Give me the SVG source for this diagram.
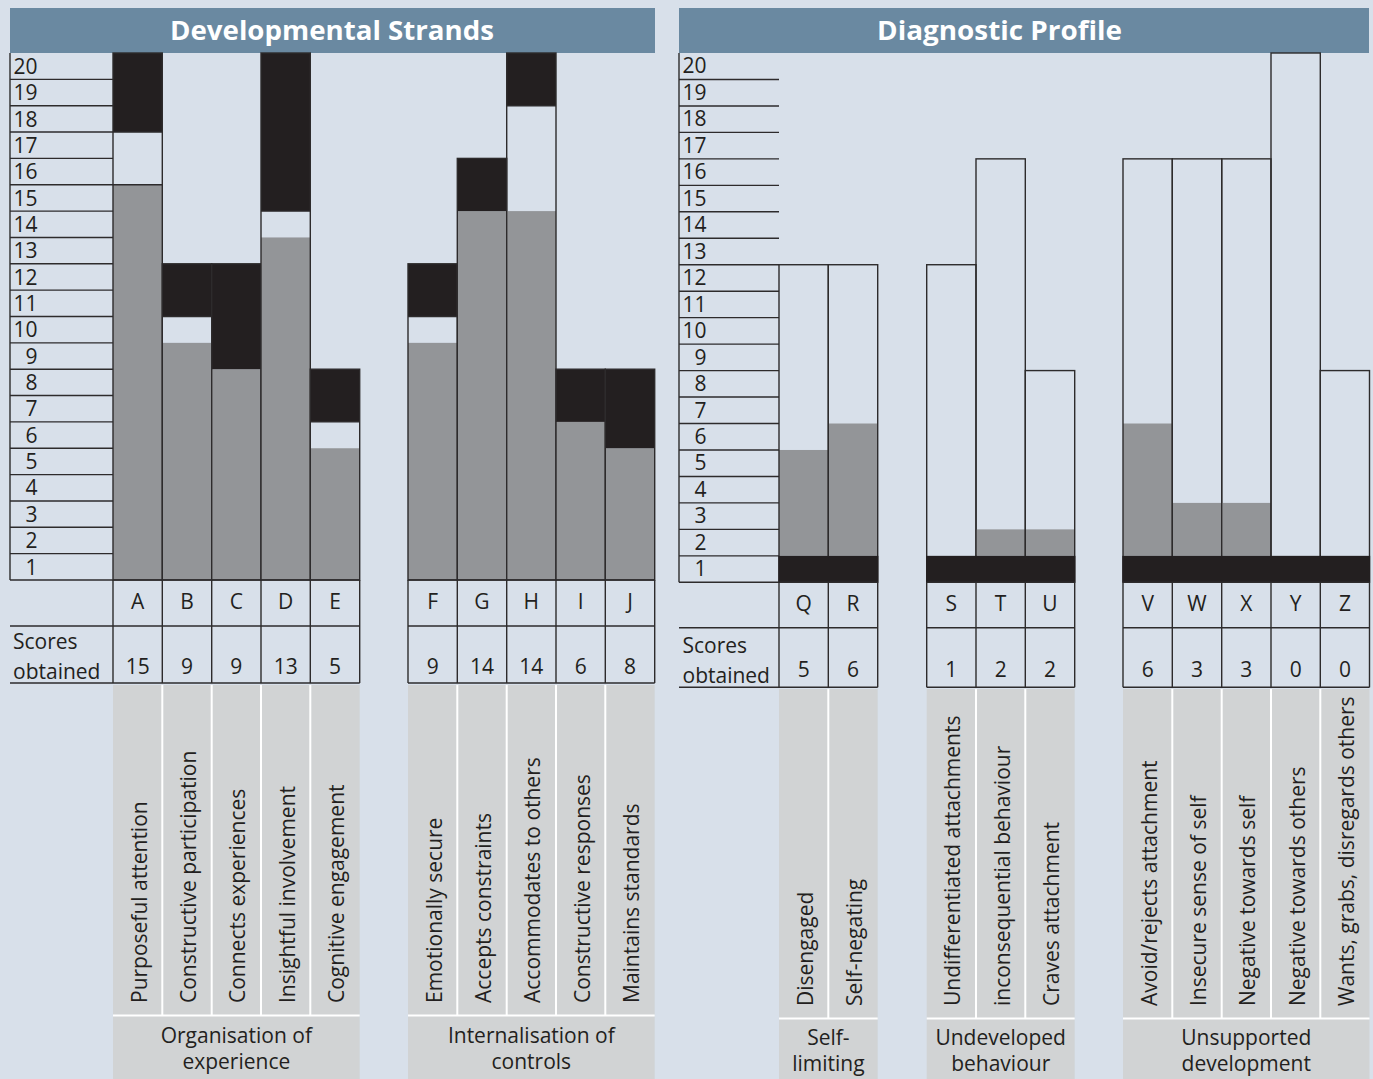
<svg xmlns="http://www.w3.org/2000/svg" width="1373" height="1079" viewBox="0 0 1373 1079">
<style>
.bg{fill:#d8e0ea}
.hdr{fill:#6a89a1}
.ht{font-family:"Open Sans","Noto Sans","Liberation Sans",sans-serif;font-weight:700;font-size:27px;fill:#fff;text-anchor:middle}
.t{font-family:"Open Sans","Noto Sans","Liberation Sans",sans-serif;font-size:21px;fill:#231f20}
.c{text-anchor:middle}
.e{text-anchor:end}
.ln{stroke:#2d2b2c;stroke-width:1.4;fill:none}
.ol{stroke:#2d2b2c;stroke-width:1.4;fill:none}
.blk{fill:#231f20}
.gry{fill:#939598}
.lab{fill:#d1d3d4}
.wl{stroke:#fff;stroke-width:2}
</style>
<rect class="bg" x="0" y="0" width="1373" height="1079"/>

<g id="headers">
<rect class="hdr" x="10" y="8" width="645" height="45"/>
<text class="ht" x="332" y="40" textLength="324" lengthAdjust="spacingAndGlyphs">Developmental Strands</text>
<rect class="hdr" x="679" y="8" width="690" height="45"/>
<text class="ht" x="999.5" y="40" textLength="245" lengthAdjust="spacingAndGlyphs">Diagnostic Profile</text>
</g>

<g id="label-areas">
<rect class="lab" x="113" y="685" width="246.7" height="394"/>
<rect class="lab" x="408" y="685" width="246.7" height="394"/>
<rect class="lab" x="779" y="689" width="98.7" height="390"/>
<rect class="lab" x="926.7" y="689" width="148" height="390"/>
<rect class="lab" x="1123" y="689" width="246.5" height="390"/>
<g class="wl">
<line x1="162.3" y1="685" x2="162.3" y2="1015"/><line x1="211.7" y1="685" x2="211.7" y2="1015"/><line x1="261" y1="685" x2="261" y2="1015"/><line x1="310.3" y1="685" x2="310.3" y2="1015"/>
<line x1="113" y1="1015.5" x2="359.7" y2="1015.5"/>
<line x1="457.3" y1="685" x2="457.3" y2="1015"/><line x1="506.7" y1="685" x2="506.7" y2="1015"/><line x1="556" y1="685" x2="556" y2="1015"/><line x1="605.3" y1="685" x2="605.3" y2="1015"/>
<line x1="408" y1="1015.5" x2="654.7" y2="1015.5"/>
<line x1="828.3" y1="689" x2="828.3" y2="1018"/>
<line x1="779" y1="1018.5" x2="877.7" y2="1018.5"/>
<line x1="976" y1="689" x2="976" y2="1018"/><line x1="1025.3" y1="689" x2="1025.3" y2="1018"/>
<line x1="926.7" y1="1018.5" x2="1074.7" y2="1018.5"/>
<line x1="1172.3" y1="689" x2="1172.3" y2="1018"/><line x1="1221.7" y1="689" x2="1221.7" y2="1018"/><line x1="1271" y1="689" x2="1271" y2="1018"/><line x1="1320.3" y1="689" x2="1320.3" y2="1018"/>
<line x1="1123" y1="1018.5" x2="1369.5" y2="1018.5"/>
</g>
</g>

<g id="left-scale">
<g class="ln">
<line x1="10" y1="53" x2="10" y2="580"/>
<line x1="10" y1="79.35" x2="113" y2="79.35"/><line x1="10" y1="105.7" x2="113" y2="105.7"/><line x1="10" y1="132.05" x2="113" y2="132.05"/><line x1="10" y1="158.4" x2="113" y2="158.4"/><line x1="10" y1="184.75" x2="113" y2="184.75"/><line x1="10" y1="211.1" x2="113" y2="211.1"/><line x1="10" y1="237.45" x2="113" y2="237.45"/><line x1="10" y1="263.8" x2="113" y2="263.8"/><line x1="10" y1="290.15" x2="113" y2="290.15"/><line x1="10" y1="316.5" x2="113" y2="316.5"/><line x1="10" y1="342.85" x2="113" y2="342.85"/><line x1="10" y1="369.2" x2="113" y2="369.2"/><line x1="10" y1="395.55" x2="113" y2="395.55"/><line x1="10" y1="421.9" x2="113" y2="421.9"/><line x1="10" y1="448.25" x2="113" y2="448.25"/><line x1="10" y1="474.6" x2="113" y2="474.6"/><line x1="10" y1="500.95" x2="113" y2="500.95"/><line x1="10" y1="527.3" x2="113" y2="527.3"/><line x1="10" y1="553.65" x2="113" y2="553.65"/>
</g>
<g class="t e">
<text x="37.5" y="73.85">20</text><text x="37.5" y="100.2">19</text><text x="37.5" y="126.55">18</text><text x="37.5" y="152.9">17</text><text x="37.5" y="179.25">16</text><text x="37.5" y="205.6">15</text><text x="37.5" y="231.95">14</text><text x="37.5" y="258.3">13</text><text x="37.5" y="284.65">12</text><text x="37.5" y="311">11</text><text x="37.5" y="337.35">10</text><text x="37.5" y="363.7">9</text><text x="37.5" y="390.05">8</text><text x="37.5" y="416.4">7</text><text x="37.5" y="442.75">6</text><text x="37.5" y="469.1">5</text><text x="37.5" y="495.45">4</text><text x="37.5" y="521.8">3</text><text x="37.5" y="548.15">2</text><text x="37.5" y="574.5">1</text>
</g>
</g>

<g id="left-bars">
<g id="bar-A"><rect class="gry" x="113" y="184.75" width="49.3" height="395.25"/><rect class="blk" x="113" y="53" width="49.3" height="79.05"/><rect class="ol" x="113" y="53" width="49.3" height="527"/></g>
<g id="bar-B"><rect class="gry" x="162.3" y="342.85" width="49.4" height="237.15"/><rect class="blk" x="162.3" y="263.8" width="49.4" height="52.7"/><rect class="ol" x="162.3" y="263.8" width="49.4" height="316.2"/></g>
<g id="bar-C"><rect class="gry" x="211.7" y="369.2" width="49.3" height="210.8"/><rect class="blk" x="211.7" y="263.8" width="49.3" height="105.4"/><rect class="ol" x="211.7" y="263.8" width="49.3" height="316.2"/></g>
<g id="bar-D"><rect class="gry" x="261" y="237.45" width="49.3" height="342.55"/><rect class="blk" x="261" y="53" width="49.3" height="158.1"/><rect class="ol" x="261" y="53" width="49.3" height="527"/></g>
<g id="bar-E"><rect class="gry" x="310.3" y="448.25" width="49.4" height="131.75"/><rect class="blk" x="310.3" y="369.2" width="49.4" height="52.7"/><rect class="ol" x="310.3" y="369.2" width="49.4" height="210.8"/></g>
<g id="bar-F"><rect class="gry" x="408" y="342.85" width="49.3" height="237.15"/><rect class="blk" x="408" y="263.8" width="49.3" height="52.7"/><rect class="ol" x="408" y="263.8" width="49.3" height="316.2"/></g>
<g id="bar-G"><rect class="gry" x="457.3" y="211.1" width="49.4" height="368.9"/><rect class="blk" x="457.3" y="158.4" width="49.4" height="52.7"/><rect class="ol" x="457.3" y="158.4" width="49.4" height="421.6"/></g>
<g id="bar-H"><rect class="gry" x="506.7" y="211.1" width="49.3" height="368.9"/><rect class="blk" x="506.7" y="53" width="49.3" height="52.7"/><rect class="ol" x="506.7" y="53" width="49.3" height="527"/></g>
<g id="bar-I"><rect class="gry" x="556" y="421.9" width="49.3" height="158.1"/><rect class="blk" x="556" y="369.2" width="49.3" height="52.7"/><rect class="ol" x="556" y="369.2" width="49.3" height="210.8"/></g>
<g id="bar-J"><rect class="gry" x="605.3" y="448.25" width="49.4" height="131.75"/><rect class="blk" x="605.3" y="369.2" width="49.4" height="79.05"/><rect class="ol" x="605.3" y="369.2" width="49.4" height="210.8"/></g>
<g class="ln">
<line x1="113" y1="184.75" x2="162.3" y2="184.75"/><line x1="113" y1="132.05" x2="162.3" y2="132.05"/>
<line x1="162.3" y1="316.5" x2="211.7" y2="316.5"/>
<line x1="261" y1="211.1" x2="310.3" y2="211.1"/>
<line x1="310.3" y1="421.9" x2="359.7" y2="421.9"/>
<line x1="408" y1="316.5" x2="457.3" y2="316.5"/>
<line x1="506.7" y1="105.7" x2="556" y2="105.7"/>
</g>
</g>

<g id="left-table">
<g class="ln">
<line x1="10" y1="580" x2="359.7" y2="580"/><line x1="10" y1="626" x2="359.7" y2="626"/><line x1="10" y1="683" x2="359.7" y2="683"/>
<line x1="113" y1="580" x2="113" y2="683"/><line x1="162.3" y1="580" x2="162.3" y2="683"/><line x1="211.7" y1="580" x2="211.7" y2="683"/><line x1="261" y1="580" x2="261" y2="683"/><line x1="310.3" y1="580" x2="310.3" y2="683"/><line x1="359.7" y1="580" x2="359.7" y2="683"/>
<line x1="408" y1="580" x2="654.7" y2="580"/><line x1="408" y1="626" x2="654.7" y2="626"/><line x1="408" y1="683" x2="654.7" y2="683"/>
<line x1="408" y1="580" x2="408" y2="683"/><line x1="457.3" y1="580" x2="457.3" y2="683"/><line x1="506.7" y1="580" x2="506.7" y2="683"/><line x1="556" y1="580" x2="556" y2="683"/><line x1="605.3" y1="580" x2="605.3" y2="683"/><line x1="654.7" y1="580" x2="654.7" y2="683"/>
</g>
<g class="t c">
<text x="137.65" y="608.5">A</text><text x="187" y="608.5">B</text><text x="236.35" y="608.5">C</text><text x="285.65" y="608.5">D</text><text x="335" y="608.5">E</text>
<text x="432.65" y="608.5">F</text><text x="482" y="608.5">G</text><text x="531.35" y="608.5">H</text><text x="580.65" y="608.5">I</text><text x="630" y="608.5">J</text>
<text x="137.65" y="673.5">15</text><text x="187" y="673.5">9</text><text x="236.35" y="673.5">9</text><text x="285.65" y="673.5">13</text><text x="335" y="673.5">5</text>
<text x="432.65" y="673.5">9</text><text x="482" y="673.5">14</text><text x="531.35" y="673.5">14</text><text x="580.65" y="673.5">6</text><text x="630" y="673.5">8</text>
</g>
<text class="t" x="13" y="649">Scores</text>
<text class="t" x="13" y="679">obtained</text>
</g>

<g id="left-labels" class="t">
<text transform="translate(146.65,1003) rotate(-90)">Purposeful attention</text>
<text transform="translate(195.95,1003) rotate(-90)">Constructive participation</text>
<text transform="translate(245.35,1003) rotate(-90)">Connects experiences</text>
<text transform="translate(294.65,1003) rotate(-90)">Insightful involvement</text>
<text transform="translate(343.95,1003) rotate(-90)">Cognitive engagement</text>
<text transform="translate(441.65,1003) rotate(-90)">Emotionally secure</text>
<text transform="translate(490.95,1003) rotate(-90)">Accepts constraints</text>
<text transform="translate(540.35,1003) rotate(-90)">Accommodates to others</text>
<text transform="translate(589.65,1003) rotate(-90)">Constructive responses</text>
<text transform="translate(638.95,1003) rotate(-90)">Maintains standards</text>
<text class="c" x="236.35" y="1043">Organisation of</text>
<text class="c" x="236.35" y="1068.5">experience</text>
<text class="c" x="531.35" y="1043">Internalisation of</text>
<text class="c" x="531.35" y="1068.5">controls</text>
</g>

<g id="right-scale">
<g class="ln">
<line x1="679" y1="53" x2="679" y2="582.3"/>
<line x1="679" y1="79.47" x2="779" y2="79.47"/><line x1="679" y1="105.93" x2="779" y2="105.93"/><line x1="679" y1="132.4" x2="779" y2="132.4"/><line x1="679" y1="158.86" x2="779" y2="158.86"/><line x1="679" y1="185.33" x2="779" y2="185.33"/><line x1="679" y1="211.79" x2="779" y2="211.79"/><line x1="679" y1="238.26" x2="779" y2="238.26"/><line x1="679" y1="264.72" x2="779" y2="264.72"/><line x1="679" y1="291.19" x2="779" y2="291.19"/><line x1="679" y1="317.65" x2="779" y2="317.65"/><line x1="679" y1="344.12" x2="779" y2="344.12"/><line x1="679" y1="370.58" x2="779" y2="370.58"/><line x1="679" y1="397.05" x2="779" y2="397.05"/><line x1="679" y1="423.51" x2="779" y2="423.51"/><line x1="679" y1="449.98" x2="779" y2="449.98"/><line x1="679" y1="476.44" x2="779" y2="476.44"/><line x1="679" y1="502.91" x2="779" y2="502.91"/><line x1="679" y1="529.37" x2="779" y2="529.37"/><line x1="679" y1="555.84" x2="779" y2="555.84"/>
</g>
<g class="t e">
<text x="706.5" y="73.47">20</text><text x="706.5" y="99.93">19</text><text x="706.5" y="126.4">18</text><text x="706.5" y="152.86">17</text><text x="706.5" y="179.33">16</text><text x="706.5" y="205.79">15</text><text x="706.5" y="232.26">14</text><text x="706.5" y="258.72">13</text><text x="706.5" y="285.19">12</text><text x="706.5" y="311.65">11</text><text x="706.5" y="338.12">10</text><text x="706.5" y="364.58">9</text><text x="706.5" y="391.05">8</text><text x="706.5" y="417.51">7</text><text x="706.5" y="443.98">6</text><text x="706.5" y="470.44">5</text><text x="706.5" y="496.91">4</text><text x="706.5" y="523.37">3</text><text x="706.5" y="549.84">2</text><text x="706.5" y="576.3">1</text>
</g>
</g>

<g id="right-bars">
<g id="bar-Q"><rect class="gry" x="779" y="449.98" width="49.3" height="105.86"/><rect class="ol" x="779" y="264.72" width="49.3" height="317.58"/></g>
<g id="bar-R"><rect class="gry" x="828.3" y="423.51" width="49.4" height="132.33"/><rect class="ol" x="828.3" y="264.72" width="49.4" height="317.58"/></g>
<g id="bar-S"><rect class="ol" x="926.7" y="264.72" width="49.3" height="317.58"/></g>
<g id="bar-T"><rect class="gry" x="976" y="529.37" width="49.3" height="26.47"/><rect class="ol" x="976" y="158.86" width="49.3" height="423.44"/></g>
<g id="bar-U"><rect class="gry" x="1025.3" y="529.37" width="49.4" height="26.47"/><rect class="ol" x="1025.3" y="370.58" width="49.4" height="211.72"/></g>
<g id="bar-V"><rect class="gry" x="1123" y="423.51" width="49.3" height="132.33"/><rect class="ol" x="1123" y="158.86" width="49.3" height="423.44"/></g>
<g id="bar-W"><rect class="gry" x="1172.3" y="502.91" width="49.4" height="52.93"/><rect class="ol" x="1172.3" y="158.86" width="49.4" height="423.44"/></g>
<g id="bar-X"><rect class="gry" x="1221.7" y="502.91" width="49.3" height="52.93"/><rect class="ol" x="1221.7" y="158.86" width="49.3" height="423.44"/></g>
<g id="bar-Y"><rect class="ol" x="1271" y="53" width="49.3" height="529.3"/></g>
<g id="bar-Z"><rect class="ol" x="1320.3" y="370.58" width="49.2" height="211.72"/></g>
<rect class="blk" x="778.3" y="555.84" width="100.1" height="26.46"/>
<rect class="blk" x="926" y="555.84" width="149.4" height="26.46"/>
<rect class="blk" x="1122.3" y="555.84" width="247.9" height="26.46"/>
</g>

<g id="right-table">
<g class="ln">
<line x1="679" y1="582.3" x2="877.7" y2="582.3"/><line x1="679" y1="627.7" x2="877.7" y2="627.7"/><line x1="679" y1="687.3" x2="877.7" y2="687.3"/>
<line x1="779" y1="582.3" x2="779" y2="687.3"/><line x1="828.3" y1="582.3" x2="828.3" y2="687.3"/><line x1="877.7" y1="582.3" x2="877.7" y2="687.3"/>
<line x1="926.7" y1="582.3" x2="1074.7" y2="582.3"/><line x1="926.7" y1="627.7" x2="1074.7" y2="627.7"/><line x1="926.7" y1="687.3" x2="1074.7" y2="687.3"/>
<line x1="926.7" y1="582.3" x2="926.7" y2="687.3"/><line x1="976" y1="582.3" x2="976" y2="687.3"/><line x1="1025.3" y1="582.3" x2="1025.3" y2="687.3"/><line x1="1074.7" y1="582.3" x2="1074.7" y2="687.3"/>
<line x1="1123" y1="582.3" x2="1369.5" y2="582.3"/><line x1="1123" y1="627.7" x2="1369.5" y2="627.7"/><line x1="1123" y1="687.3" x2="1369.5" y2="687.3"/>
<line x1="1123" y1="582.3" x2="1123" y2="687.3"/><line x1="1172.3" y1="582.3" x2="1172.3" y2="687.3"/><line x1="1221.7" y1="582.3" x2="1221.7" y2="687.3"/><line x1="1271" y1="582.3" x2="1271" y2="687.3"/><line x1="1320.3" y1="582.3" x2="1320.3" y2="687.3"/><line x1="1369.5" y1="582.3" x2="1369.5" y2="687.3"/>
</g>
<g class="t c">
<text x="803.65" y="611">Q</text><text x="853" y="611">R</text>
<text x="951.35" y="611">S</text><text x="1000.65" y="611">T</text><text x="1050" y="611">U</text>
<text x="1147.65" y="611">V</text><text x="1197" y="611">W</text><text x="1246.35" y="611">X</text><text x="1295.65" y="611">Y</text><text x="1344.9" y="611">Z</text>
<text x="803.65" y="677">5</text><text x="853" y="677">6</text>
<text x="951.35" y="677">1</text><text x="1000.65" y="677">2</text><text x="1050" y="677">2</text>
<text x="1147.65" y="677">6</text><text x="1197" y="677">3</text><text x="1246.35" y="677">3</text><text x="1295.65" y="677">0</text><text x="1344.9" y="677">0</text>
</g>
<text class="t" x="682.5" y="652.5">Scores</text>
<text class="t" x="682.5" y="683">obtained</text>
</g>

<g id="right-labels" class="t">
<text transform="translate(812.65,1006) rotate(-90)">Disengaged</text>
<text transform="translate(861.95,1006) rotate(-90)">Self-negating</text>
<text transform="translate(960.35,1006) rotate(-90)">Undifferentiated attachments</text>
<text transform="translate(1009.65,1006) rotate(-90)">inconsequential behaviour</text>
<text transform="translate(1058.95,1006) rotate(-90)">Craves attachment</text>
<text transform="translate(1156.65,1006) rotate(-90)">Avoid/rejects attachment</text>
<text transform="translate(1205.95,1006) rotate(-90)">Insecure sense of self</text>
<text transform="translate(1255.35,1006) rotate(-90)">Negative towards self</text>
<text transform="translate(1304.65,1006) rotate(-90)">Negative towards others</text>
<text transform="translate(1353.95,1006) rotate(-90)">Wants, grabs, disregards others</text>
<text class="c" x="828.35" y="1045">Self-</text>
<text class="c" x="828.35" y="1070.5">limiting</text>
<text class="c" x="1000.7" y="1045">Undeveloped</text>
<text class="c" x="1000.7" y="1070.5">behaviour</text>
<text class="c" x="1246.25" y="1045">Unsupported</text>
<text class="c" x="1246.25" y="1070.5">development</text>
</g>
</svg>
